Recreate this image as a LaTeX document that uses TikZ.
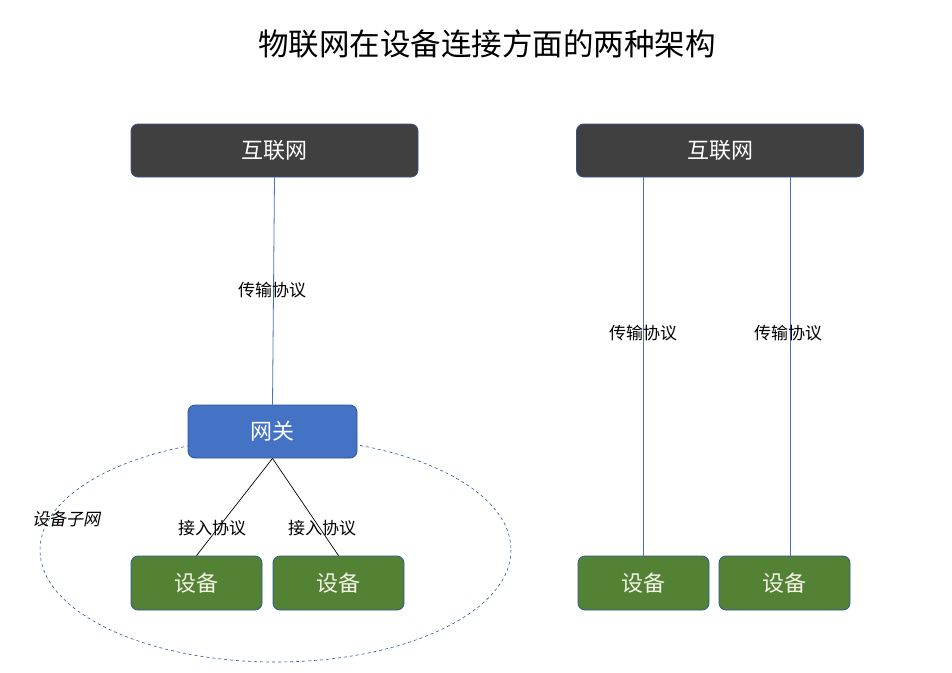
\documentclass[tikz,border=0pt]{standalone}
\usepackage{fontspec}
\setmainfont{Noto Sans CJK SC}
\newfontfamily\cjkit[FakeSlant=0.2]{Noto Sans CJK SC}
\usetikzlibrary{positioning}

\definecolor{netgray}{HTML}{404040}
\definecolor{gateblue}{HTML}{4472C4}
\definecolor{devgreen}{HTML}{548235}
\definecolor{edgeblue}{HTML}{2F5597}
\definecolor{devtext}{HTML}{F2F2E6}

\tikzset{
    netbox/.style={draw=edgeblue, line width=0.8pt, fill=netgray, rounded corners=7pt,
        minimum width=287pt, minimum height=53pt, text=white, font=\fontsize{22}{22}\selectfont},
    gatebox/.style={netbox, fill=gateblue, minimum width=169pt},
    devbox/.style={netbox, fill=devgreen, minimum width=131pt, minimum height=54pt, text=devtext},
    proto/.style={font=\fontsize{17}{17}\selectfont, inner sep=0pt},
    wire/.style={gateblue, line width=0.8pt},
}

\begin{document}
\begin{tikzpicture}[x=1pt,y=-1pt]

    \useasboundingbox[fill=white] (0,0) rectangle (952,672);

    %Titulo
    \node (titulo) at (487,44) {\fontsize{30.5}{30.5}\selectfont 物联网在设备连接方面的两种架构};

    %Izquierda
    \draw[edgeblue, dashed, line width=0.6pt] (275.5,550) ellipse (235.5 and 112);
    \node[proto] (subnet) at (66,519) {\cjkit 设备子网};

    \node[netbox] (netA) at (274.5,150.5) {互联网};
    \node[gatebox] (gate) at (272.5,431.5) {网关};
    \node[devbox] (devA1) at (196.5,583) {设备};
    \node[devbox] (devA2) at (338.5,583) {设备};

    \draw[wire] (netA.south) -- (gate.north);
    \node[proto] (tpA) at (272,290) {传输协议};

    \draw[line width=0.7pt] (gate.south) -- (devA1.north);
    \draw[line width=0.7pt] (gate.south) -- (devA2.north);
    \node[proto] (acA1) at (212,528) {接入协议};
    \node[proto] (acA2) at (322,528) {接入协议};

    %Derecha
    \node[netbox] (netB) at (720,150.5) {互联网};
    \node[devbox] (devB1) at (643.5,583) {设备};
    \node[devbox] (devB2) at (784.5,583) {设备};

    \coordinate (pB1) at (643,0);
    \coordinate (pB2) at (790,0);
    \foreach \d in {1,2}{
        \draw[wire] (netB.south -| pB\d) -- (devB\d.north -| pB\d);
    }
    \node[proto] (tpB1) at (643,333) {传输协议};
    \node[proto] (tpB2) at (788,333) {传输协议};

\end{tikzpicture}
\end{document}
